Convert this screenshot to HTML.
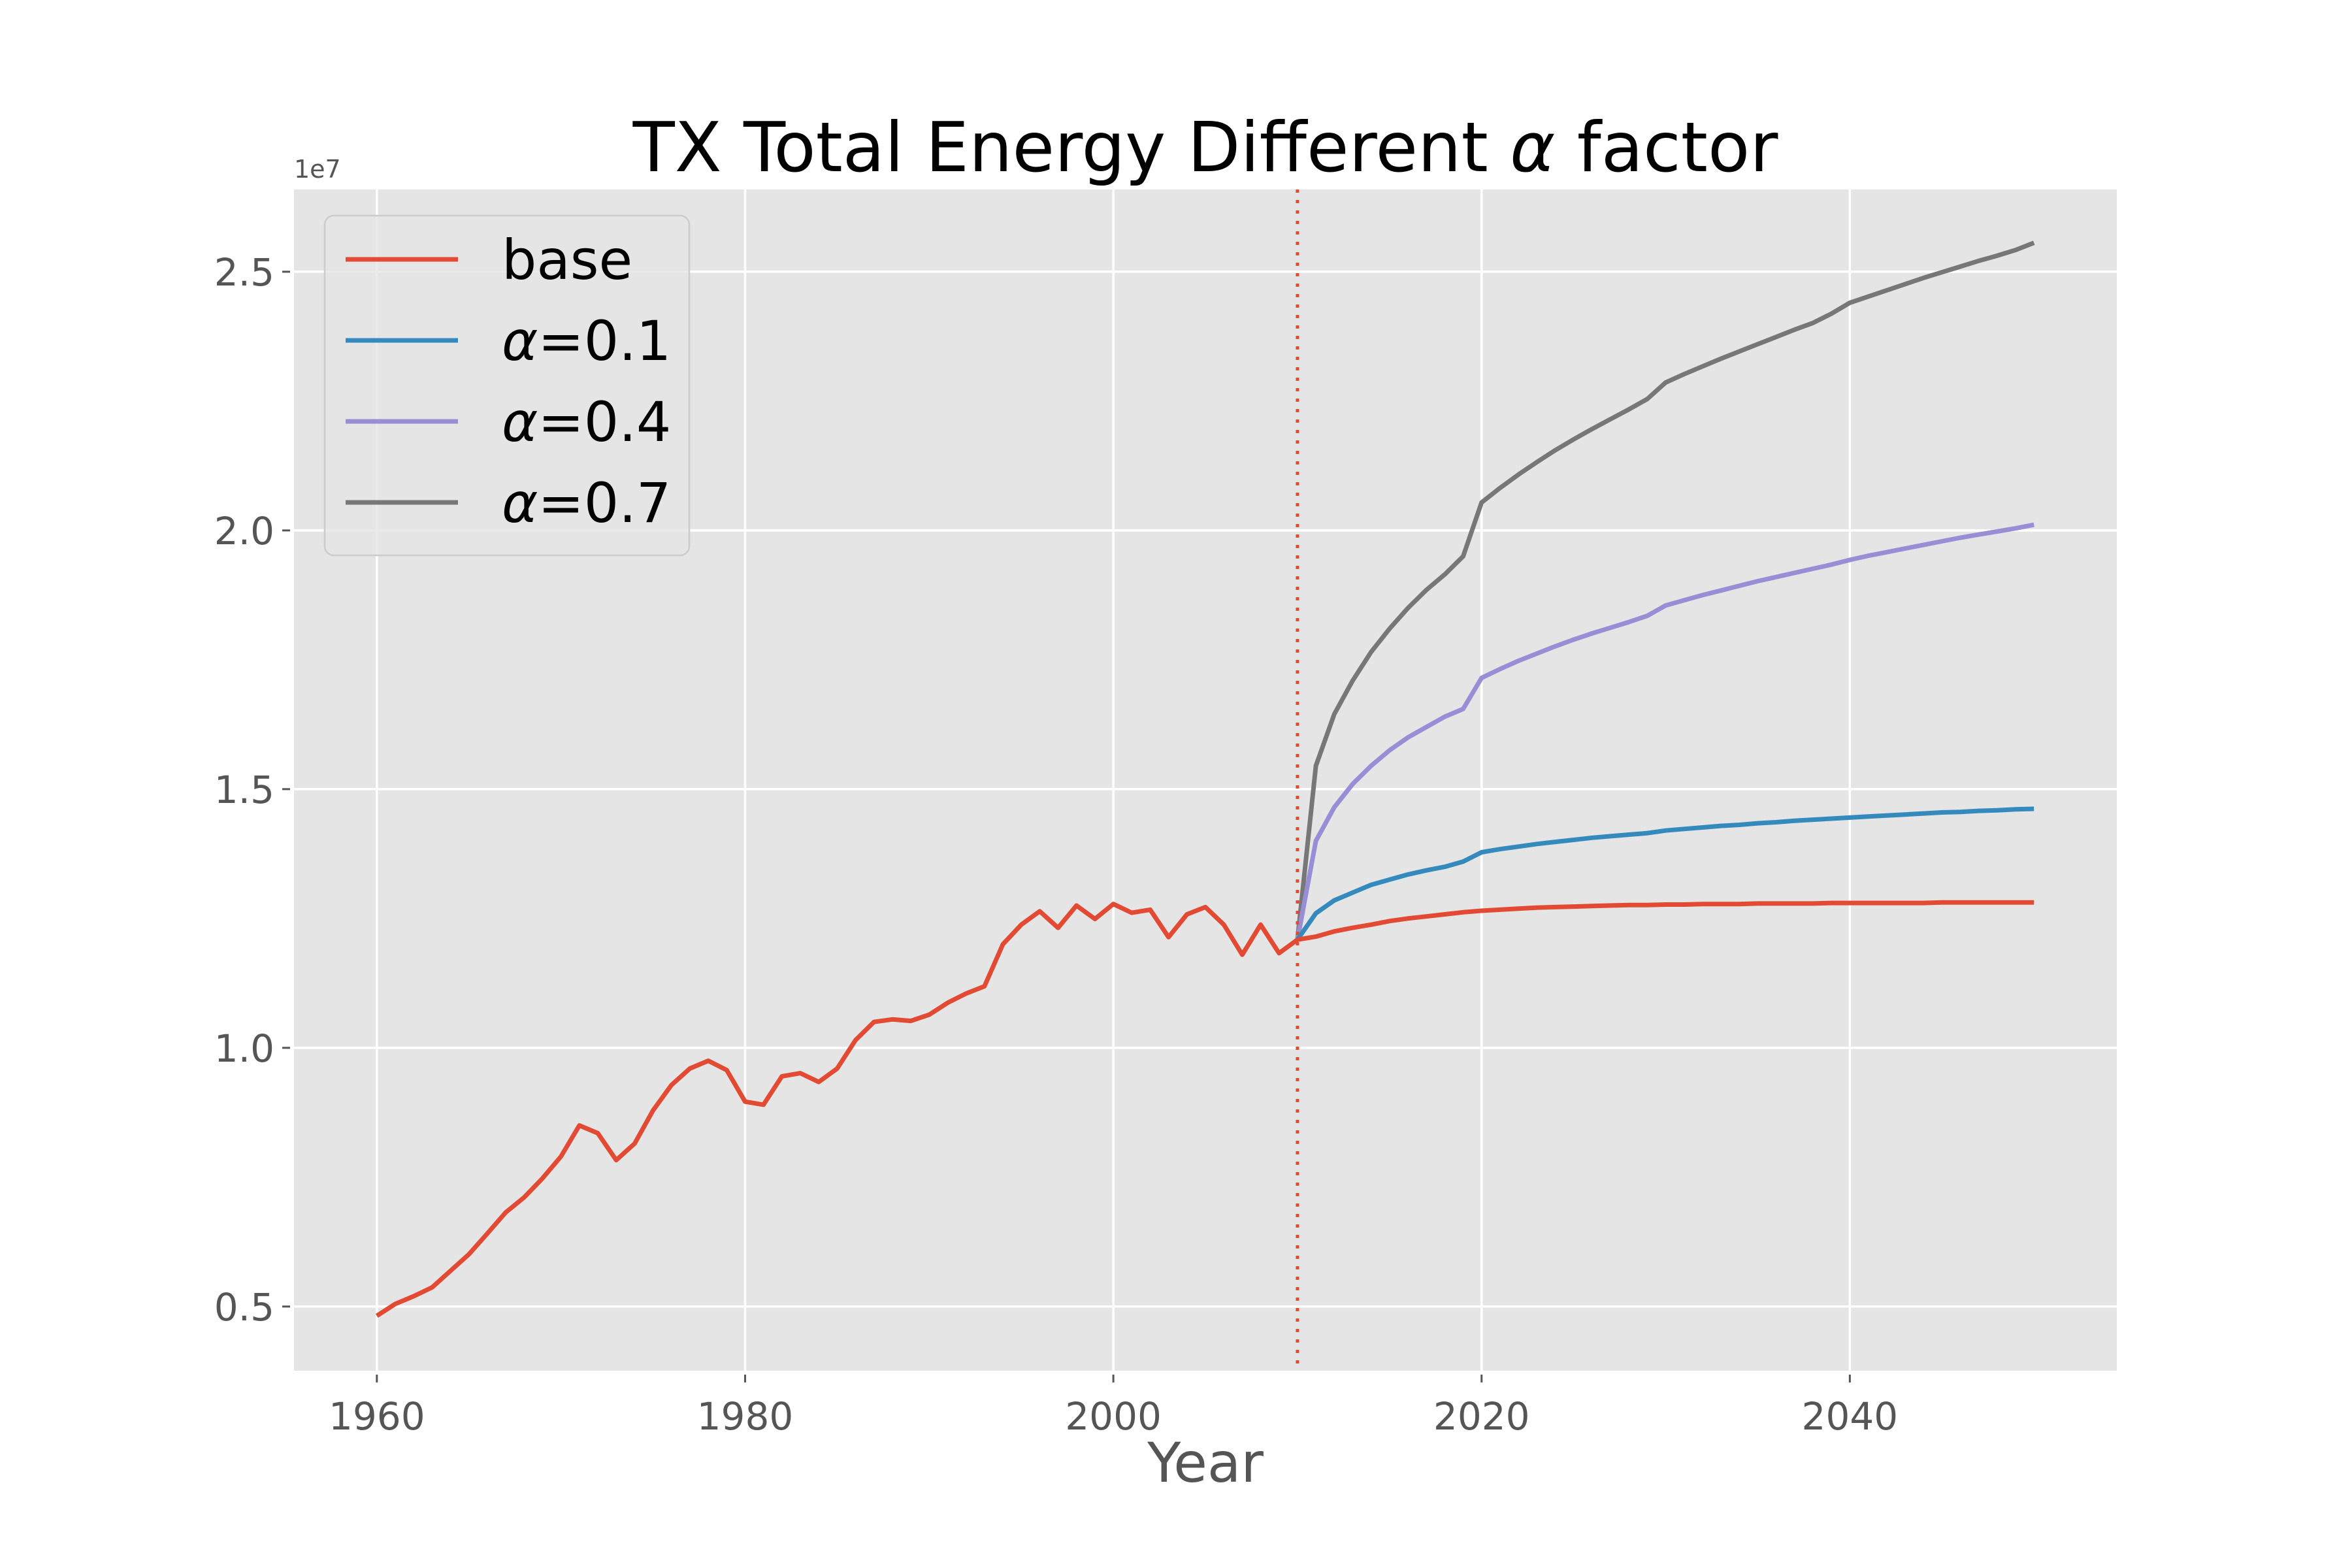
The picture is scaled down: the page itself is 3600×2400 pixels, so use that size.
<!DOCTYPE html>
<html><head><meta charset="utf-8">
<style>
html,body{margin:0;padding:0;background:#fff;}
svg{display:block;font-family:"DejaVu Sans","Liberation Sans",sans-serif;}
</style></head>
<body>
<svg id="chart" width="3600" height="2400" viewBox="0 0 3600 2400" xmlns="http://www.w3.org/2000/svg">
<rect x="0" y="0" width="3600" height="2400" fill="#ffffff"/>
<g id="plot"></g>
</svg>
<script>
const histYears = [];
for (let y = 1960; y <= 2010; y++) histYears.push(y);
const baseHist = [0.482,0.505,0.52,0.537,0.569,0.601,0.641,0.682,0.711,0.748,0.79,0.85,0.835,0.783,0.815,0.879,0.928,0.96,0.975,0.957,0.896,0.89,0.945,0.951,0.934,0.96,1.015,1.05,1.055,1.052,1.064,1.087,1.105,1.119,1.2,1.238,1.264,1.232,1.275,1.249,1.278,1.261,1.267,1.214,1.258,1.272,1.238,1.18,1.238,1.183,1.209];
const projYears = [];
for (let y = 2010; y <= 2050; y++) projYears.push(y);
const baseProj = [1.209,1.215,1.225,1.232,1.238,1.245,1.25,1.254,1.258,1.262,1.265,1.267,1.269,1.271,1.272,1.273,1.274,1.275,1.276,1.276,1.277,1.277,1.278,1.278,1.278,1.279,1.279,1.279,1.279,1.28,1.28,1.28,1.28,1.28,1.28,1.281,1.281,1.281,1.281,1.281,1.281];
const alpha01 = [1.209,1.26,1.285,1.30,1.315,1.325,1.335,1.343,1.35,1.36,1.378,1.384,1.389,1.394,1.398,1.402,1.406,1.409,1.412,1.415,1.42,1.423,1.426,1.429,1.431,1.434,1.436,1.439,1.441,1.443,1.445,1.447,1.449,1.451,1.453,1.455,1.456,1.458,1.459,1.461,1.462];
const alpha04 = [1.209,1.40,1.465,1.51,1.545,1.575,1.60,1.62,1.64,1.655,1.715,1.732,1.748,1.762,1.776,1.789,1.801,1.812,1.823,1.835,1.855,1.865,1.875,1.884,1.893,1.902,1.91,1.918,1.926,1.934,1.943,1.951,1.958,1.965,1.972,1.979,1.986,1.992,1.998,2.004,2.011];
const alpha07 = [1.209,1.545,1.645,1.71,1.765,1.81,1.85,1.885,1.915,1.95,2.054,2.082,2.108,2.132,2.155,2.176,2.196,2.215,2.234,2.254,2.286,2.302,2.317,2.332,2.346,2.36,2.374,2.388,2.401,2.419,2.44,2.452,2.464,2.476,2.488,2.499,2.51,2.521,2.531,2.542,2.556];
const xTicks = [1960,1980,2000,2020,2040];
const yTicks = [0.5,1.0,1.5,2.0,2.5];
const yTickLabels = ["0.5","1.0","1.5","2.0","2.5"];
const legendValues = ["0.1","0.4","0.7"];

const NS = "http://www.w3.org/2000/svg";
const L = 450, R = 3240, T = 290, B = 2098;
const xMin = 1955.5, xMax = 2054.5, yMin = 0.376, yMax = 2.659;
function xs(v){ return L + (v - xMin) / (xMax - xMin) * (R - L); }
function ys(v){ return B - (v - yMin) / (yMax - yMin) * (B - T); }
const g = document.getElementById('plot');
function mk(tag, attrs, parent){
  const e = document.createElementNS(NS, tag);
  for (const k in attrs) e.setAttribute(k, attrs[k]);
  (parent || g).appendChild(e);
  return e;
}
const bg = mk('rect', {x:L, y:T, width:R-L, height:B-T, fill:'#e5e5e5'});



xTicks.forEach(t => {
  const x = xs(t);
  const gl = mk('line', {x1:x, x2:x, y1:T, y2:B, stroke:'#ffffff', 'stroke-width':3.5});
  
  
  const tk = mk('line', {x1:x, x2:x, y1:B+6, y2:B+18, stroke:'#555', 'stroke-width':3});
  
  
  const tx = mk('text', {x:x, y:B+90, 'text-anchor':'middle', 'font-size':58, fill:'#555555'});
  tx.textContent = String(t);
  
  
});
yTicks.forEach((t, i) => {
  const y = ys(t);
  const gl = mk('line', {x1:L, x2:R, y1:y, y2:y, stroke:'#ffffff', 'stroke-width':3.5});
  
  
  const tk = mk('line', {x1:L-18, x2:L-6, y1:y, y2:y, stroke:'#555', 'stroke-width':3});
  
  
  const tx = mk('text', {x:L-30, y:y+21, 'text-anchor':'end', 'font-size':58, fill:'#555555'});
  tx.textContent = yTickLabels[i];
  
  
});

function series(xv, yv, color, name){
  const pts = xv.map((x, i) => xs(x).toFixed(1) + ',' + ys(yv[i]).toFixed(1)).join(' ');
  const p = mk('polyline', {points:pts, fill:'none', stroke:color, 'stroke-width':7, 'stroke-linejoin':'round'});
  
  
}
series(projYears, alpha07, '#777777', 'series-alpha-0-7');
series(projYears, alpha04, '#988ed5', 'series-alpha-0-4');
series(projYears, alpha01, '#348abd', 'series-alpha-0-1');
series(projYears, baseProj, '#e24a33', 'series-base-projection');
series(histYears, baseHist, '#e24a33', 'series-base-history');

const vx = xs(2010);
const vl = mk('line', {x1:vx, x2:vx, y1:T, y2:B, stroke:'#e24a33', 'stroke-width':5, 'stroke-dasharray':'5 11'});



const colors = ['#e24a33','#348abd','#988ed5','#777777'];
const lg = mk('g', {});


mk('rect', {x:497, y:330, width:558, height:520, rx:14, fill:'#e5e5e5', 'fill-opacity':0.8, stroke:'#cccccc', 'stroke-width':2.5}, lg);
for (let i = 0; i < 4; i++) {
  const y = 397 + i * 124;
  const ln = mk('line', {x1:529, x2:701, y1:y, y2:y, stroke:colors[i], 'stroke-width':7}, lg);
  
  
  const tx = mk('text', {x:768, y:y+30, 'font-size':84, fill:'#000'}, lg);
  if (i === 0) {
    tx.textContent = 'base';
  } else {
    const a = mk('tspan', {'font-style':'italic'}, tx);
    a.textContent = '\u03b1';
    const b = mk('tspan', {}, tx);
    b.textContent = '=' + legendValues[i-1];
  }
  
  
}

const off = mk('text', {x:L, y:T-18, 'font-size':38, fill:'#555555'});
off.textContent = '1e7';


const title = mk('text', {x:(L+R)/2, y:262, 'text-anchor':'middle', 'font-size':105, fill:'#000'});
const t1 = mk('tspan', {}, title); t1.textContent = 'TX Total Energy Different ';
const t2 = mk('tspan', {'font-style':'italic'}, title); t2.textContent = '\u03b1';
const t3 = mk('tspan', {}, title); t3.textContent = ' factor';


const xl = mk('text', {x:(L+R)/2, y:2268, 'text-anchor':'middle', 'font-size':84, fill:'#555555'});
xl.textContent = 'Year';


</script>
</body></html>
